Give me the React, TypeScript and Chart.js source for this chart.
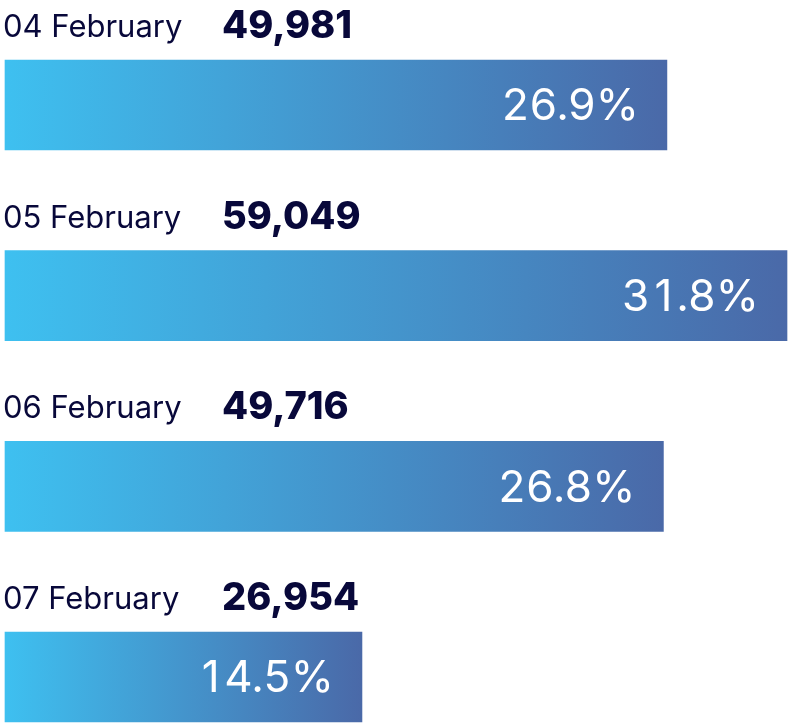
import React, { useEffect, useRef } from "react";
import { Chart, registerables } from "chart.js";

Chart.register(...registerables);

const categories = ["04 February", "05 February", "06 February", "07 February"];
const counts = [49981, 59049, 49716, 26954];
const countLabels = ["49,981", "59,049", "49,716", "26,954"];
const percentLabels = ["26.9%", "31.8%", "26.8%", "14.5%"];

const TEXT = "#08083a";
const START = "#3ec0f0";
const END = "#4a69a8";

// draw text with tabular (fixed-width) digits and tightened punctuation
function drawTab(ctx: any, text: string, x: number, y: number, align: "left" | "right", punct = 1) {
  const dw = ctx.measureText("0").width;
  const widths = Array.from(text).map((ch) =>
    /[0-9]/.test(ch) ? dw : /[.,]/.test(ch) ? ctx.measureText(ch).width * punct : ctx.measureText(ch).width
  );
  const total = widths.reduce((a, b) => a + b, 0);
  let cx = align === "right" ? x - total : x;
  const prev = ctx.textAlign;
  ctx.textAlign = "center";
  Array.from(text).forEach((ch, i) => {
    ctx.fillText(ch, cx + widths[i] / 2, y);
    cx += widths[i];
  });
  ctx.textAlign = prev;
}

const labelPlugin = {
  id: "barLabels",
  afterDatasetsDraw(chart: any) {
    const { ctx } = chart;
    const meta = chart.getDatasetMeta(0);
    const left = chart.chartArea.left;
    ctx.save();
    meta.data.forEach((el: any, i: number) => {
      const top = el.y - el.height / 2;
      ctx.fillStyle = TEXT;
      ctx.textAlign = "left";
      ctx.textBaseline = "alphabetic";
      ctx.font = "400 31px Inter";
      ctx.fillText(categories[i], left - 2, top - 23);
      ctx.font = "800 38px Inter";
      ctx.fillText(countLabels[i], left + 217, top - 22);
      ctx.fillStyle = "#ffffff";
      ctx.textBaseline = "middle";
      ctx.font = "400 44px Inter";
      drawTab(ctx, percentLabels[i], el.x - 28, el.y + 2, "right", 0.85);
    });
    ctx.restore();
  },
};

export default function App() {
  const ref = useRef<HTMLCanvasElement | null>(null);
  useEffect(() => {
    if (!ref.current) return;
    const chart = new Chart(ref.current, {
      type: "bar",
      data: {
        labels: categories,
        datasets: [
          {
            data: counts,
            barThickness: 90,
            clip: false as any,
            borderWidth: 0,
            backgroundColor: (c: any) => {
              const xs = c.chart.scales && c.chart.scales.x;
              if (!xs) return START;
              const x0 = xs.getPixelForValue(0);
              const x1 = xs.getPixelForValue(counts[c.dataIndex]);
              if (!isFinite(x0) || !isFinite(x1) || x1 <= x0) return START;
              const g = c.chart.ctx.createLinearGradient(x0, 0, x1, 0);
              g.addColorStop(0, START);
              g.addColorStop(1, END);
              return g;
            },
          },
        ],
      },
      options: {
        indexAxis: "y",
        animation: false,
        responsive: false,
        maintainAspectRatio: false,
        events: [],
        layout: { padding: { left: 5, right: 9, top: 105, bottom: 51 } },
        plugins: { legend: { display: false }, tooltip: { enabled: false } },
        scales: {
          x: { display: false, min: 0, max: Math.max(...counts) },
          y: { display: false, offset: false, grid: { display: false } },
        },
      },
      plugins: [labelPlugin],
    });
    return () => chart.destroy();
  }, []);
  return (
    <div style={{ position: "absolute", left: 0, top: 0, width: 796, height: 728, overflow: "hidden", background: "#fff" }}>
      <canvas ref={ref} width={796} height={728} style={{ display: "block", width: 796, height: 728 }} />
    </div>
  );
}
